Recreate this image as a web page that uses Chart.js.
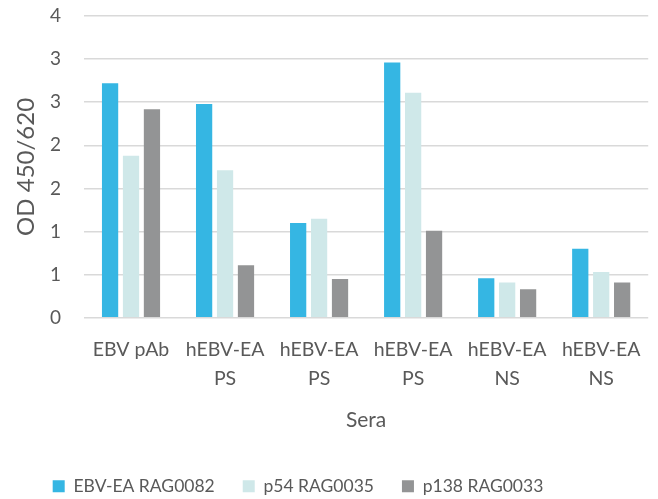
<!DOCTYPE html>
<html>
<head>
<meta charset="utf-8">
<script src="https://cdn.jsdelivr.net/npm/chart.js@4/dist/chart.umd.min.js"></script>
<style>
  html, body { margin: 0; padding: 0; background: #ffffff; }
  #wrap { width: 658px; height: 499px; }
</style>
</head>
<body>
<div id="wrap"><canvas id="chart" width="658" height="499"></canvas></div>
<script>
// Sera tested (two-line category labels)
const categories = [
  'EBV pAb',
  ['hEBV-EA', 'PS'],
  ['hEBV-EA', 'PS'],
  ['hEBV-EA', 'PS'],
  ['hEBV-EA', 'NS'],
  ['hEBV-EA', 'NS']
];

// OD 450/620 readings per antigen
const ebvEaRag0082 = [2.72, 2.48, 1.10, 2.96, 0.46, 0.80];
const p54Rag0035   = [1.88, 1.71, 1.15, 2.61, 0.41, 0.53];
const p138Rag0033  = [2.42, 0.61, 0.45, 1.01, 0.33, 0.41];

const seriesNames = ['EBV-EA RAG0082', 'p54 RAG0035', 'p138 RAG0033'];

// Axis range and tick step
const yMin = 0;
const yMax = 3.5;
const yStep = 0.5;

const FONT = 'Lato, "Open Sans", sans-serif';
const TEXT = '#595959';

// Nudges the legend block after layout so it sits under the plot like an office chart
const legendOffset = {
  id: 'legendOffset',
  afterLayout(chart, args, opts) {
    const lg = chart.legend;
    if (!lg) return;
    lg.left += opts.dx; lg.right += opts.dx;
    lg.top += opts.dy; lg.bottom += opts.dy;
  }
};

new Chart(document.getElementById('chart'), {
  type: 'bar',
  data: {
    labels: categories,
    datasets: [
      { label: seriesNames[0], data: ebvEaRag0082, backgroundColor: '#35B6E3' },
      { label: seriesNames[1], data: p54Rag0035,   backgroundColor: '#CFE8E9' },
      { label: seriesNames[2], data: p138Rag0033,  backgroundColor: '#939495' }
    ]
  },
  plugins: [legendOffset],
  options: {
    responsive: false,
    animation: false,
    layout: { padding: { top: 16, right: 6, left: 12, bottom: 11 } },
    datasets: {
      bar: { categoryPercentage: 0.668, barPercentage: 0.776 }
    },
    scales: {
      x: {
        grid: { display: false, drawTicks: false },
        border: { display: false },
        ticks: {
          color: TEXT,
          font: { family: FONT, size: 19.5, lineHeight: 1.5 },
          maxRotation: 0,
          autoSkip: false,
          padding: 17
        },
        title: {
          display: true,
          text: 'Sera',
          color: TEXT,
          font: { family: FONT, size: 21 },
          padding: { top: -3, bottom: 0 }
        }
      },
      y: {
        min: yMin,
        max: yMax,
        // fixed axis width; tick padding should not push the plot top down
        afterFit: (s) => { s.width = 72; s.paddingTop = 0; },
        grid: { color: '#D9D9D9', lineWidth: 1.5, drawTicks: false },
        border: { display: false },
        ticks: {
          stepSize: yStep,
          color: TEXT,
          font: { family: FONT, size: 19 },
          padding: 23,
          callback: (v) => String(Math.round(v))
        },
        title: {
          display: true,
          text: 'OD 450/620',
          color: TEXT,
          font: { family: FONT, size: 24 },
          padding: { top: 0, bottom: 9 }
        }
      }
    },
    plugins: {
      tooltip: { enabled: false },
      legendOffset: { dx: -34, dy: 17 },
      legend: {
        position: 'bottom',
        labels: {
          color: TEXT,
          font: { family: FONT, size: 17.5 },
          boxWidth: 12,
          boxHeight: 12,
          padding: 28
        }
      }
    }
  }
});
</script>
</body>
</html>
